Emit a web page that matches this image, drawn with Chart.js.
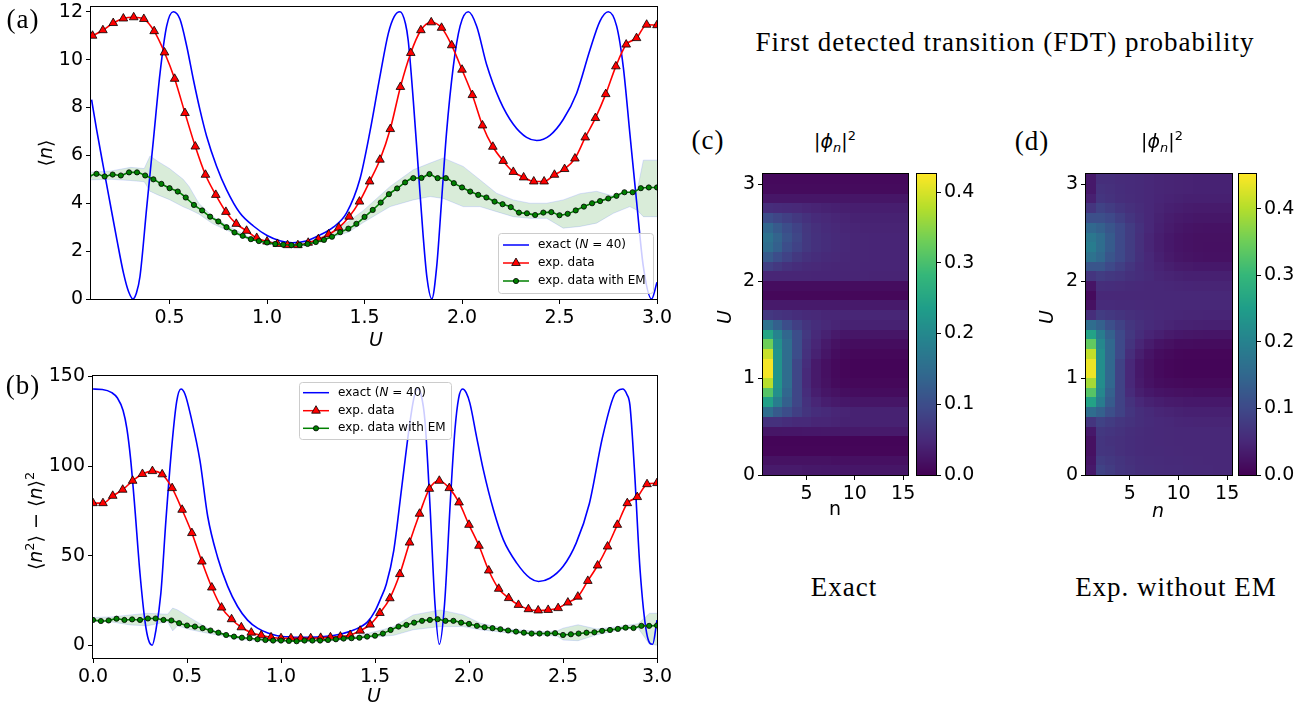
<!DOCTYPE html>
<html><head><meta charset="utf-8">
<script src="https://cdn.jsdelivr.net/npm/chart.js@4.4.1/dist/chart.umd.min.js"></script>
<style>
html,body{margin:0;padding:0;background:#fff;width:1311px;height:707px;overflow:hidden;position:relative;}
canvas{position:absolute;}
.t{position:absolute;transform:translate(-50%,-50%);white-space:nowrap;color:#000;line-height:1;}
.serif{font-family:'Liberation Serif',serif;font-size:27px;letter-spacing:1px;}
.sans{font-family:'DejaVu Sans',sans-serif;font-size:19px;}
.rot{transform:translate(-50%,-50%) rotate(-90deg);}
sup,sub{font-size:0.68em;line-height:0;}
</style></head><body>
<canvas id="cA" width="680" height="353" style="left:0;top:-8px"></canvas>
<canvas id="cB" width="680" height="347" style="left:0;top:360px"></canvas>
<canvas id="cC" width="220" height="360" style="left:700px;top:160px"></canvas>
<canvas id="cCb" width="98" height="360" style="left:912px;top:160px"></canvas>
<canvas id="cD" width="224" height="360" style="left:1020px;top:160px"></canvas>
<canvas id="cDb" width="77" height="360" style="left:1234px;top:160px"></canvas>

<div class="t serif" style="left:23px;top:19px">(a)</div>
<div class="t serif" style="left:23px;top:385px">(b)</div>
<div class="t serif" style="left:708px;top:140px">(c)</div>
<div class="t serif" style="left:1032px;top:141px">(d)</div>
<div class="t serif" style="left:1005px;top:42px">First detected transition (FDT) probability</div>
<div class="t serif" style="left:844px;top:587px">Exact</div>
<div class="t serif" style="left:1176px;top:587px">Exp. without EM</div>
<div class="t sans" style="left:835px;top:141px">|<i>ϕ</i><sub><i>n</i></sub>|<sup>2</sup></div>
<div class="t sans" style="left:1162px;top:141px">|<i>ϕ</i><sub><i>n</i></sub>|<sup>2</sup></div>
<div class="t sans" style="left:376px;top:339px"><i>U</i></div>
<div class="t sans" style="left:374px;top:695px"><i>U</i></div>
<div class="t sans rot" style="left:45px;top:153px">⟨<i>n</i>⟩</div>
<div class="t sans rot" style="left:35px;top:521px">⟨<i>n</i><sup>2</sup>⟩ − ⟨<i>n</i>⟩<sup>2</sup></div>
<div class="t sans" style="left:835px;top:508px">n</div>
<div class="t sans rot" style="left:724px;top:317px"><i>U</i></div>
<div class="t sans" style="left:1158px;top:510px"><i>n</i></div>
<div class="t sans rot" style="left:1046px;top:317px"><i>U</i></div>

<script>
// ---------------- DATA ----------------
// exact (N=40) curve, panel (a)
const blueAU = [0.1,0.126,0.16,0.195,0.23,0.264,0.29,0.312,0.33,0.348,0.383,0.417,0.451,0.485,0.519,0.553,0.588,0.622,0.656,0.69,0.741,0.792,0.86,0.93,1.0,1.07,1.13,1.2,1.27,1.34,1.408,1.476,1.528,1.579,1.622,1.652,1.682,1.71,1.724,1.75,1.775,1.8,1.82,1.845,1.87,1.895,1.92,1.955,1.99,2.032,2.075,2.126,2.194,2.263,2.331,2.383,2.451,2.519,2.588,2.656,2.707,2.75,2.793,2.827,2.861,2.895,2.93,2.972,3.0];
const blueAV = [8.33,7.07,5.54,4.0,2.47,1.07,0.3,0,0.25,0.93,3.85,6.64,9.43,11.4,12.0,11.7,10.56,9.17,7.9,6.8,5.55,4.57,3.6,3.05,2.65,2.42,2.35,2.42,2.67,3.0,3.6,5.0,7.0,9.3,11.1,11.8,12.0,11.5,10.8,8.3,5.5,2.7,0.9,0,1.35,4.1,6.9,9.7,11.4,12.0,11.4,9.8,8.3,7.3,6.75,6.62,6.84,7.5,8.6,10.4,11.6,12.0,11.4,9.7,6.9,4.1,1.35,0,0.7];
// exact (N=40) curve, panel (b)
const blueBU = [0,0.05,0.1,0.13,0.16,0.18,0.2,0.22,0.25,0.277,0.295,0.315,0.335,0.361,0.388,0.42,0.445,0.468,0.49,0.52,0.569,0.61,0.663,0.716,0.769,0.822,0.875,0.93,0.98,1.05,1.14,1.23,1.32,1.39,1.46,1.5,1.53,1.56,1.6,1.642,1.68,1.705,1.725,1.745,1.766,1.792,1.819,1.842,1.87,1.9,1.925,1.945,1.966,1.985,2.005,2.04,2.076,2.13,2.183,2.254,2.325,2.37,2.43,2.5,2.57,2.64,2.71,2.77,2.817,2.84,2.856,2.88,2.91,2.945,2.977,3.0];
const blueBV = [143,142.8,141,138,131,121,104,80,40,13,3,0,8.6,29,70,112,136,143,140,128,103,72,49,33,21.6,14,9.5,6.8,5.3,4.6,4.4,4.8,6.3,8.6,13,19,26,34,53,88,120,137,143,140,125,79,23,0.5,23,79,120,138,143,141,135,116.5,98,75.6,58.8,45.8,37.4,35.6,37.4,43.9,57,79,116,139,143,140,134,98,42,6.7,0.5,14];

// exp. data grid (U values of the triangles)
const redU = [0,0.053,0.105,0.158,0.211,0.263,0.316,0.368,0.421,0.474,0.526,0.579,0.632,0.684,0.737,0.789,0.842,0.895,0.947,1.0,1.053,1.105,1.158,1.211,1.263,1.316,1.368,1.421,1.474,1.526,1.579,1.632,1.684,1.737,1.789,1.842,1.895,1.947,2.0,2.053,2.105,2.158,2.211,2.263,2.316,2.368,2.421,2.474,2.526,2.579,2.632,2.684,2.737,2.789,2.842,2.895,2.947,3.0];
// panel (a): values from U=0.105 onward
const redA = [11.0,11.23,11.53,11.72,11.77,11.7,11.19,10.3,9.2,7.77,6.37,5.19,4.35,3.64,3.14,2.85,2.55,2.4,2.3,2.25,2.25,2.35,2.5,2.7,2.98,3.44,4.07,4.91,5.82,7.1,8.86,10.28,11.23,11.56,11.33,10.6,9.58,8.52,7.25,6.36,5.77,5.31,5.08,4.91,4.91,5.19,5.43,5.87,6.75,7.56,8.56,9.72,10.63,10.9,11.46,11.44];
const redB = [79.3,79.3,83.4,86.8,91.8,95.6,97.2,95.4,87.7,75.6,62.6,46.7,32.2,21.0,14.5,10.0,7.0,5.5,4.4,3.9,3.9,3.9,3.9,4.1,4.4,4.8,5.7,8.1,11.5,18.0,26.2,39.7,57.3,73.4,87.3,91.8,87.7,79.7,67.2,55.5,41.7,31.5,26.3,22.5,20.1,19.4,19.7,20.7,23.8,27.1,35.9,44.5,55.1,67.2,79.3,82.7,89.9,90.5];

// exp. data with EM grid
const greenU = [0,0.042,0.083,0.125,0.167,0.208,0.25,0.292,0.333,0.375,0.417,0.458,0.5,0.542,0.583,0.625,0.667,0.708,0.75,0.792,0.833,0.875,0.917,0.958,1.0,1.042,1.083,1.125,1.167,1.208,1.25,1.292,1.333,1.375,1.417,1.458,1.5,1.542,1.583,1.625,1.667,1.708,1.75,1.792,1.833,1.875,1.917,1.958,2.0,2.042,2.083,2.125,2.167,2.208,2.25,2.292,2.333,2.375,2.417,2.458,2.5,2.542,2.583,2.625,2.667,2.708,2.75,2.792,2.833,2.875,2.917,2.958,3.0];
// panel (a): values from U=0.083 onward
const greenA = [5.1,5.23,5.12,5.2,5.16,5.29,5.29,5.16,5.0,4.81,4.63,4.49,4.24,3.93,3.7,3.44,3.24,3.0,2.78,2.64,2.5,2.42,2.36,2.3,2.27,2.25,2.26,2.3,2.38,2.47,2.6,2.79,2.94,3.14,3.43,3.72,4.03,4.38,4.62,4.87,5.05,5.06,5.22,5.05,5.05,4.84,4.66,4.49,4.35,4.24,4.07,3.96,3.84,3.61,3.58,3.51,3.61,3.63,3.5,3.56,3.7,3.86,4.0,4.09,4.2,4.31,4.46,4.46,4.63,4.66,4.66];
const greenB = [14.1,13.5,13.8,14.8,14.1,14.4,14.1,14.9,14.9,14.1,13.8,12.3,11.0,10.4,9.5,8.2,7.0,5.7,4.8,4.2,3.9,3.3,2.9,2.6,2.6,2.4,2.2,2.6,2.6,2.6,2.9,3.3,3.7,3.9,4.2,4.8,5.3,6.5,8.5,10.4,11.3,12.6,13.6,14.1,14.5,13.6,13.6,12.6,11.9,10.8,10.0,9.5,8.9,8.2,7.6,7.0,6.5,6.5,6.5,6.7,5.7,6.1,6.5,7.0,7.2,8.0,8.5,9.1,9.8,9.6,10.8,10.8,11.0];

// EM uncertainty band
const bandAU  = [0.097,0.2,0.3,0.37,0.40,0.44,0.5,0.57,0.6,0.65,0.72,0.8,0.9,1.0,1.1,1.2,1.32,1.42,1.494,1.631,1.75,1.836,1.904,2.006,2.092,2.177,2.263,2.348,2.434,2.519,2.605,2.69,2.776,2.861,2.9,2.93,3.0];
const bandALo = [4.98,5.0,4.95,4.9,4.5,4.35,4.15,3.85,3.75,3.55,3.15,2.85,2.5,2.3,2.2,2.22,2.55,2.8,3.2,3.86,4.14,4.28,4.2,3.86,3.86,3.65,3.44,3.37,3.37,2.96,3.03,3.17,3.58,3.86,3.7,3.44,3.44];
const bandAHi = [5.3,5.35,5.5,5.45,5.98,5.75,5.45,5.0,4.7,4.0,3.45,3.05,2.62,2.42,2.32,2.36,2.75,3.25,3.7,4.7,5.4,5.68,5.89,5.54,4.98,4.42,4.14,4.0,4.0,4.14,4.4,4.5,4.3,4.45,4.6,5.8,5.8];
const bandBU  = [0,0.1,0.2,0.29,0.397,0.424,0.45,0.52,0.61,0.7,0.8,1.0,1.2,1.4,1.54,1.6,1.703,1.846,1.97,2.06,2.2,2.4,2.47,2.5,2.58,2.68,2.8,2.9,2.96,3.0];
const bandBLo = [13.5,13.0,11.3,10.8,13.2,8.0,10.8,8.6,6.7,5.0,3.0,2.0,2.0,3.5,5.0,5.5,8.6,10.4,10.4,8.6,7.0,5.5,5.0,2.9,2.5,5.8,8.5,9.5,0.5,0];
const bandBHi = [15.5,15.8,16.9,17.8,17.3,20.7,19.7,15.1,9.5,6.0,3.8,2.8,3.0,5.0,8.6,10.5,16.9,19.7,16.9,12.3,9.0,7.5,8.0,9.5,11.4,9.0,10.5,12.0,17.8,17.8];

// tick labels
const ticksAX = [0.5,1.0,1.5,2.0,2.5,3.0];
const ticksAY = [0,2,4,6,8,10,12];
const ticksBX = [0.0,0.5,1.0,1.5,2.0,2.5,3.0];
const ticksBY = [0,50,100,150];
const heatNTicks = [5,10,15];
const heatUTicks = [0,1,2,3];
const cbarTicks = [0.0,0.1,0.2,0.3,0.4];

// heatmaps: columns n, row centres U, |phi_n|^2 values (rows bottom to top)
const heatN = [1,2,3,4,5,6,7,8,9,10,11,12,13,14,15];
const heatU = [0.05,0.15,0.25,0.35,0.45,0.55,0.65,0.75,0.85,0.95,1.05,1.15,1.25,1.35,1.45,1.55,1.65,1.75,1.85,1.95,2.05,2.15,2.25,2.35,2.45,2.55,2.65,2.75,2.85,2.95,3.05];
const heatExact = [
 [0.03,0.03,0.03,0.03,0.028,0.028,0.027,0.027,0.026,0.026,0.025,0.025,0.025,0.025,0.025],
 [0.02,0.02,0.02,0.02,0.02,0.02,0.02,0.018,0.018,0.018,0.018,0.018,0.018,0.018,0.018],
 [0.006,0.006,0.006,0.006,0.006,0.006,0.006,0.006,0.006,0.006,0.006,0.006,0.006,0.006,0.006],
 [0.005,0.005,0.005,0.005,0.005,0.005,0.005,0.005,0.005,0.005,0.005,0.005,0.005,0.005,0.005],
 [0.025,0.025,0.026,0.026,0.027,0.027,0.028,0.028,0.029,0.029,0.03,0.03,0.03,0.03,0.03],
 [0.06,0.06,0.055,0.05,0.05,0.045,0.045,0.042,0.04,0.04,0.04,0.04,0.04,0.04,0.04],
 [0.15,0.12,0.1,0.08,0.065,0.055,0.05,0.045,0.042,0.04,0.04,0.04,0.04,0.04,0.04],
 [0.24,0.18,0.13,0.09,0.06,0.045,0.035,0.03,0.027,0.025,0.025,0.025,0.025,0.025,0.025],
 [0.31,0.21,0.14,0.09,0.055,0.035,0.025,0.02,0.016,0.014,0.013,0.013,0.013,0.013,0.013],
 [0.38,0.22,0.15,0.09,0.05,0.03,0.02,0.012,0.009,0.008,0.008,0.008,0.008,0.008,0.008],
 [0.42,0.22,0.15,0.09,0.05,0.03,0.018,0.01,0.006,0.005,0.005,0.005,0.005,0.005,0.005],
 [0.42,0.22,0.15,0.09,0.055,0.03,0.018,0.01,0.006,0.005,0.005,0.005,0.005,0.005,0.005],
 [0.39,0.22,0.15,0.1,0.06,0.04,0.025,0.015,0.01,0.008,0.008,0.008,0.008,0.008,0.008],
 [0.33,0.21,0.15,0.1,0.065,0.045,0.03,0.02,0.016,0.015,0.015,0.015,0.015,0.015,0.015],
 [0.25,0.19,0.14,0.1,0.07,0.05,0.04,0.03,0.026,0.025,0.025,0.025,0.025,0.025,0.025],
 [0.16,0.13,0.1,0.08,0.065,0.055,0.048,0.043,0.04,0.04,0.04,0.04,0.04,0.04,0.04],
 [0.07,0.065,0.06,0.055,0.05,0.048,0.045,0.045,0.045,0.045,0.045,0.045,0.045,0.045,0.045],
 [0.03,0.03,0.03,0.03,0.03,0.03,0.03,0.03,0.03,0.03,0.03,0.03,0.03,0.03,0.03],
 [0.008,0.008,0.008,0.008,0.008,0.008,0.008,0.008,0.008,0.008,0.008,0.008,0.008,0.008,0.008],
 [0.015,0.015,0.015,0.015,0.015,0.015,0.015,0.015,0.015,0.015,0.015,0.015,0.015,0.015,0.015],
 [0.045,0.045,0.045,0.045,0.045,0.044,0.044,0.044,0.043,0.043,0.043,0.042,0.042,0.042,0.042],
 [0.08,0.07,0.06,0.055,0.05,0.048,0.046,0.045,0.045,0.045,0.044,0.044,0.044,0.044,0.044],
 [0.12,0.1,0.085,0.07,0.06,0.055,0.05,0.048,0.046,0.045,0.045,0.044,0.044,0.044,0.044],
 [0.15,0.13,0.1,0.085,0.07,0.06,0.055,0.05,0.047,0.045,0.045,0.044,0.044,0.044,0.044],
 [0.16,0.135,0.11,0.09,0.07,0.06,0.055,0.05,0.047,0.045,0.045,0.044,0.044,0.044,0.044],
 [0.14,0.12,0.1,0.085,0.068,0.058,0.052,0.048,0.045,0.043,0.042,0.042,0.042,0.042,0.042],
 [0.1,0.09,0.08,0.07,0.06,0.052,0.048,0.045,0.042,0.04,0.04,0.04,0.04,0.04,0.04],
 [0.055,0.052,0.05,0.048,0.045,0.042,0.04,0.038,0.036,0.035,0.035,0.035,0.035,0.035,0.035],
 [0.025,0.025,0.025,0.025,0.025,0.025,0.025,0.025,0.025,0.025,0.025,0.025,0.025,0.025,0.025],
 [0.012,0.012,0.012,0.012,0.012,0.012,0.012,0.012,0.012,0.012,0.012,0.012,0.012,0.012,0.012],
 [0.01,0.01,0.01,0.01,0.01,0.01,0.01,0.01,0.01,0.01,0.01,0.01,0.01,0.01,0.01]
];
const heatExp = [
 [0.03,0.09,0.08,0.07,0.065,0.06,0.058,0.056,0.055,0.055,0.053,0.052,0.052,0.05,0.05],
 [0.025,0.08,0.075,0.068,0.062,0.058,0.056,0.055,0.054,0.053,0.052,0.051,0.05,0.05,0.05],
 [0.02,0.07,0.068,0.062,0.058,0.055,0.054,0.053,0.052,0.051,0.05,0.05,0.05,0.05,0.05],
 [0.02,0.07,0.066,0.062,0.058,0.055,0.053,0.052,0.051,0.05,0.05,0.05,0.05,0.05,0.05],
 [0.03,0.075,0.07,0.065,0.06,0.056,0.054,0.052,0.051,0.05,0.05,0.05,0.05,0.05,0.05],
 [0.07,0.09,0.08,0.072,0.065,0.06,0.055,0.052,0.05,0.048,0.047,0.046,0.046,0.046,0.046],
 [0.16,0.14,0.11,0.09,0.07,0.06,0.053,0.048,0.045,0.042,0.04,0.04,0.04,0.04,0.04],
 [0.26,0.19,0.13,0.09,0.065,0.05,0.042,0.037,0.034,0.032,0.03,0.03,0.03,0.03,0.03],
 [0.33,0.21,0.14,0.09,0.055,0.038,0.03,0.025,0.022,0.02,0.019,0.018,0.018,0.018,0.018],
 [0.39,0.22,0.15,0.09,0.05,0.032,0.022,0.016,0.013,0.011,0.01,0.01,0.01,0.01,0.01],
 [0.44,0.22,0.15,0.09,0.05,0.03,0.02,0.012,0.008,0.006,0.005,0.005,0.005,0.005,0.005],
 [0.44,0.22,0.15,0.09,0.05,0.03,0.02,0.012,0.008,0.006,0.005,0.005,0.005,0.005,0.005],
 [0.41,0.22,0.15,0.1,0.06,0.038,0.025,0.016,0.011,0.008,0.007,0.007,0.007,0.007,0.007],
 [0.34,0.21,0.15,0.1,0.068,0.048,0.035,0.025,0.02,0.016,0.015,0.014,0.014,0.014,0.014],
 [0.26,0.19,0.14,0.1,0.075,0.058,0.047,0.04,0.034,0.03,0.028,0.027,0.026,0.026,0.026],
 [0.16,0.14,0.11,0.09,0.072,0.062,0.055,0.05,0.046,0.043,0.042,0.041,0.04,0.04,0.04],
 [0.06,0.08,0.075,0.068,0.062,0.058,0.055,0.052,0.05,0.049,0.048,0.048,0.047,0.047,0.047],
 [0.02,0.055,0.055,0.054,0.053,0.052,0.051,0.05,0.05,0.05,0.05,0.05,0.05,0.05,0.05],
 [0.012,0.05,0.05,0.05,0.05,0.05,0.05,0.05,0.05,0.05,0.05,0.05,0.05,0.05,0.05],
 [0.025,0.06,0.058,0.056,0.054,0.052,0.05,0.05,0.049,0.048,0.047,0.046,0.046,0.046,0.046],
 [0.07,0.08,0.075,0.07,0.063,0.058,0.053,0.048,0.045,0.042,0.04,0.04,0.04,0.04,0.04],
 [0.12,0.12,0.1,0.085,0.07,0.058,0.05,0.044,0.038,0.034,0.032,0.03,0.03,0.03,0.03],
 [0.17,0.15,0.12,0.1,0.08,0.063,0.05,0.04,0.032,0.027,0.024,0.022,0.021,0.021,0.021],
 [0.19,0.16,0.13,0.1,0.08,0.062,0.048,0.037,0.03,0.025,0.022,0.02,0.019,0.019,0.019],
 [0.18,0.16,0.13,0.1,0.08,0.062,0.048,0.037,0.03,0.025,0.022,0.02,0.02,0.02,0.02],
 [0.15,0.14,0.12,0.1,0.08,0.064,0.05,0.04,0.033,0.028,0.025,0.023,0.022,0.022,0.022],
 [0.11,0.11,0.1,0.085,0.07,0.06,0.05,0.042,0.036,0.032,0.03,0.028,0.028,0.028,0.028],
 [0.07,0.09,0.08,0.07,0.062,0.056,0.05,0.045,0.04,0.037,0.035,0.034,0.034,0.034,0.034],
 [0.04,0.07,0.066,0.06,0.056,0.053,0.05,0.047,0.044,0.042,0.04,0.04,0.04,0.04,0.04],
 [0.03,0.065,0.062,0.058,0.055,0.053,0.05,0.048,0.046,0.045,0.044,0.043,0.043,0.043,0.043],
 [0.03,0.06,0.06,0.057,0.055,0.053,0.05,0.048,0.046,0.045,0.044,0.043,0.043,0.043,0.043]
];
const vmaxExact = 0.425;
const vmaxExp = 0.452;

// ---------------- RENDERING ----------------
Chart.defaults.color = '#000';
Chart.defaults.font.family = "'DejaVu Sans', sans-serif";
Chart.defaults.font.size = 19;

const VIR = ['#440154','#482878','#3e4989','#31688e','#26828e','#1f9e89','#35b779','#6ece58','#b5de2b','#fde725'].map(h=>[parseInt(h.slice(1,3),16),parseInt(h.slice(3,5),16),parseInt(h.slice(5,7),16)]);
function viridis(t){
  t = Math.max(0, Math.min(1, t));
  const p = t*(VIR.length-1), i = Math.min(Math.floor(p), VIR.length-2), f = p-i;
  const c = VIR[i].map((a,k)=>Math.round(a+(VIR[i+1][k]-a)*f));
  return `rgb(${c[0]},${c[1]},${c[2]})`;
}
const pts = (xs, ys) => ys.map((y,k)=>({x:xs[k], y}));

function axis(o){
  return {
    type:'linear', position:o.pos, min:o.min, max:o.max,
    afterBuildTicks: s => { s.ticks = o.ticks.map(v=>({value:v})); },
    afterFit: s => { if (o.pos==='left'||o.pos==='right') s.width = o.size; else s.height = o.size; },
    ticks:{callback:o.fmt, color:'#000', font:{size:19}, padding:3, maxRotation:0, autoSkip:false},
    grid:{drawOnChartArea:false, drawTicks:true, tickLength:5, color:'#000', lineWidth:1},
    border:{display:false}
  };
}
const frame = {id:'frame', afterDatasetsDraw(c){
  const a=c.chartArea, ctx=c.ctx; ctx.save(); ctx.strokeStyle='#000'; ctx.lineWidth=1;
  ctx.strokeRect(Math.round(a.left)-0.5, Math.round(a.top)-0.5, Math.round(a.right)-Math.round(a.left)+1, Math.round(a.bottom)-Math.round(a.top)+1);
  ctx.restore();
}};

function legendPlugin(L){
  return {id:'lg', afterDraw(c){
    const ctx=c.ctx; ctx.save();
    ctx.beginPath(); ctx.roundRect(L.x+0.5, L.y+0.5, L.w, L.h, 3);
    ctx.fillStyle='rgba(255,255,255,0.8)'; ctx.fill();
    ctx.strokeStyle='#cccccc'; ctx.lineWidth=1; ctx.stroke();
    const items = [
      {color:'#0000ff', marker:null, parts:[['exact (',''],['N','italic '],[' = 40)','']]},
      {color:'#ff0000', marker:'tri', parts:[['exp. data','']]},
      {color:'#008000', marker:'dot', parts:[['exp. data with EM','']]}
    ];
    items.forEach((it,k)=>{
      const y = L.rows[k];
      ctx.strokeStyle=it.color; ctx.lineWidth=1.5;
      ctx.beginPath(); ctx.moveTo(L.s0,y); ctx.lineTo(L.s1,y); ctx.stroke();
      const mx=(L.s0+L.s1)/2;
      if(it.marker==='tri'){
        const r=5; ctx.beginPath();
        ctx.moveTo(mx, y-r); ctx.lineTo(mx+r*0.866, y+r*0.5); ctx.lineTo(mx-r*0.866, y+r*0.5); ctx.closePath();
        ctx.fillStyle='#ff0000'; ctx.fill(); ctx.strokeStyle='#000'; ctx.lineWidth=0.8; ctx.stroke();
      } else if(it.marker==='dot'){
        ctx.beginPath(); ctx.arc(mx,y,2.6,0,Math.PI*2);
        ctx.fillStyle='#008000'; ctx.fill(); ctx.strokeStyle='#000'; ctx.lineWidth=0.8; ctx.stroke();
      }
      let x=L.tx; ctx.fillStyle='#000'; ctx.textBaseline='middle';
      it.parts.forEach(([s,st])=>{ ctx.font=`${st}12px 'DejaVu Sans'`; ctx.fillText(s,x,y); x+=ctx.measureText(s).width; });
    });
    ctx.restore();
  }};
}

function lineChart(id, cfg){
  new Chart(document.getElementById(id), {
    type:'line',
    data:{datasets:[
      {data:pts(cfg.bandU,cfg.bandLo), borderColor:'rgba(120,140,255,0.25)', borderWidth:1, pointRadius:0, fill:false, tension:0, order:4},
      {data:pts(cfg.bandU,cfg.bandHi), borderColor:'rgba(120,140,255,0.25)', borderWidth:1, pointRadius:0, fill:'-1', backgroundColor:'rgba(0,128,0,0.15)', tension:0, order:3},
      {data:pts(cfg.blueU,cfg.blueV), borderColor:'#0000ff', borderWidth:1.6, pointRadius:0, cubicInterpolationMode:'monotone', fill:false, order:2},
      {data:pts(cfg.redU,cfg.redV), borderColor:'#ff0000', borderWidth:1.6, cubicInterpolationMode:'monotone', fill:false, order:1,
        pointStyle:'triangle', pointRadius:5, pointBackgroundColor:'#ff0000', pointBorderColor:'#000', pointBorderWidth:0.8},
      {data:pts(cfg.greenU,cfg.greenV), borderColor:'#008000', borderWidth:1.6, cubicInterpolationMode:'monotone', fill:false, order:0,
        pointStyle:'circle', pointRadius:2.6, pointBackgroundColor:'#008000', pointBorderColor:'#000', pointBorderWidth:0.8}
    ]},
    options:{
      animation:false, responsive:false, devicePixelRatio:1, events:[],
      layout:{padding:cfg.pad},
      plugins:{legend:{display:false}, tooltip:{enabled:false}},
      scales:{x:axis(cfg.x), y:axis(cfg.y)}
    },
    plugins:[frame, legendPlugin(cfg.legend)]
  });
}

// panel (a)  chart area: x 91..657, y 7..299 (canvas top -8)
lineChart('cA', {
  bandU:bandAU, bandLo:bandALo, bandHi:bandAHi,
  blueU:blueAU, blueV:blueAV,
  redU:redU.slice(2), redV:redA,
  greenU:greenU.slice(2), greenV:greenA,
  pad:{left:0, top:15, right:23, bottom:0},
  x:{pos:'bottom', min:0.097, max:3.0, ticks:ticksAX, fmt:v=>v.toFixed(1), size:46},
  y:{pos:'left', min:0, max:12.2, ticks:ticksAY, fmt:v=>String(v), size:91},
  legend:{x:498, y:241, w:155, h:60, rows:[253,271,289], s0:503, s1:529, tx:538}
});
// panel (b)  chart area: x 93..657, y 376..658 (canvas top 360)
lineChart('cB', {
  bandU:bandBU, bandLo:bandBLo, bandHi:bandBHi,
  blueU:blueBU, blueV:blueBV,
  redU:redU, redV:redB,
  greenU:greenU, greenV:greenB,
  pad:{left:0, top:16, right:23, bottom:0},
  x:{pos:'bottom', min:0, max:3.0, ticks:ticksBX, fmt:v=>v.toFixed(1), size:49},
  y:{pos:'left', min:-7.15, max:150.3, ticks:ticksBY, fmt:v=>String(v), size:93},
  legend:{x:299, y:22, w:152, h:57, rows:[32.7,50.7,68.3], s0:303, s1:329, tx:338}
});

function heatPlugin(matrix, vmax){
  return {id:'heat', beforeDatasetsDraw(c){
    const ctx=c.ctx, xs=c.scales.x, ys=c.scales.y; ctx.save();
    const half = (heatU[1]-heatU[0])/2;
    matrix.forEach((row,r)=>{
      const yb = Math.round(ys.getPixelForValue(heatU[r]-half)), yt = Math.round(ys.getPixelForValue(heatU[r]+half));
      row.forEach((v,k)=>{
        const xl = Math.round(xs.getPixelForValue(heatN[k]-0.5)), xr = Math.round(xs.getPixelForValue(heatN[k]+0.5));
        ctx.fillStyle = viridis(v/vmax);
        ctx.fillRect(xl, yt, xr-xl, yb-yt);
      });
    });
    ctx.restore();
  }};
}
function heatChart(id, matrix, vmax, padRight, yw){
  new Chart(document.getElementById(id), {
    type:'scatter', data:{datasets:[{data:[]}]},
    options:{animation:false, responsive:false, devicePixelRatio:1, events:[],
      layout:{padding:{left:0, top:14, right:padRight, bottom:0}},
      plugins:{legend:{display:false}, tooltip:{enabled:false}},
      scales:{
        x:axis({pos:'bottom', min:0.5, max:15.5, ticks:heatNTicks, fmt:v=>String(v), size:45}),
        y:axis({pos:'left', min:0, max:3.1, ticks:heatUTicks, fmt:v=>String(v), size:yw})
      }},
    plugins:[heatPlugin(matrix, vmax), frame]
  });
}
function cbarPlugin(vmax){
  return {id:'cbar', beforeDatasetsDraw(c){
    const ctx=c.ctx, ys=c.scales.y, a=c.chartArea; ctx.save();
    for(let py=Math.round(a.top); py<Math.round(a.bottom); py++){
      ctx.fillStyle = viridis(ys.getValueForPixel(py+0.5)/vmax);
      ctx.fillRect(Math.round(a.left), py, Math.round(a.right)-Math.round(a.left), 1);
    }
    ctx.restore();
  }};
}
function cbarChart(id, vmax, padLeft, yw){
  new Chart(document.getElementById(id), {
    type:'scatter', data:{datasets:[{data:[]}]},
    options:{animation:false, responsive:false, devicePixelRatio:1, events:[],
      layout:{padding:{left:padLeft, top:14, right:0, bottom:45}},
      plugins:{legend:{display:false}, tooltip:{enabled:false}},
      scales:{
        x:{type:'linear', display:false, min:0, max:1},
        y:axis({pos:'right', min:0, max:vmax, ticks:cbarTicks, fmt:v=>v.toFixed(1), size:yw})
      }},
    plugins:[cbarPlugin(vmax), frame]
  });
}
// (c) area x 763..908 ; colorbar 917..936
heatChart('cC', heatExact, vmaxExact, 12, 63);
cbarChart('cCb', vmaxExact, 5, 74);
// (d) area x 1086..1232 ; colorbar 1239..1256
heatChart('cD', heatExp, vmaxExp, 12, 66);
cbarChart('cDb', vmaxExp, 5, 55);
</script>
</body></html>
